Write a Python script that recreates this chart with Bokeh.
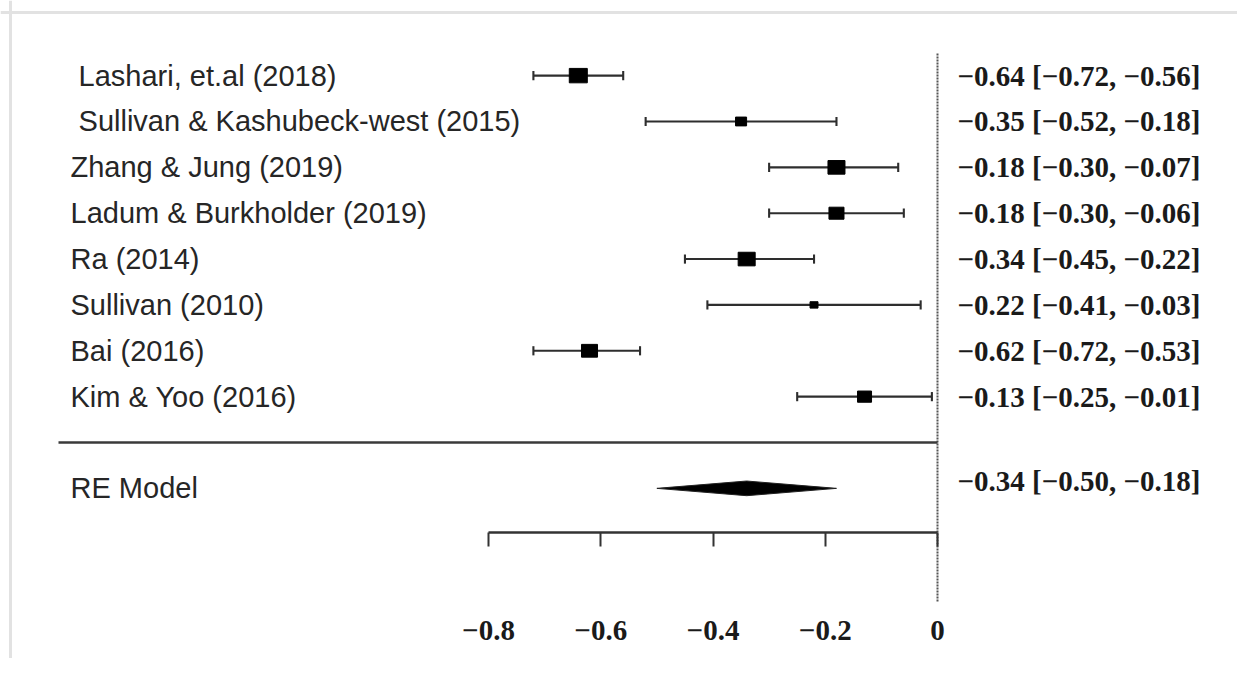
import math
from bokeh.plotting import figure
from bokeh.models import (ColumnDataSource, LinearAxis, FixedTicker,
                          CustomJSTickFormatter, Span, Range1d)
from bokeh.core.properties import value
from bokeh.embed import file_html
from bokeh.resources import INLINE

# ---------------- data ----------------
studies = ["\u00a0Lashari, et.al (2018)",
           "\u00a0Sullivan & Kashubeck-west (2015)",
           "Zhang & Jung (2019)",
           "Ladum & Burkholder (2019)",
           "Ra (2014)",
           "Sullivan (2010)",
           "Bai (2016)",
           "Kim & Yoo (2016)"]
estimates = [-0.64, -0.35, -0.18, -0.18, -0.34, -0.22, -0.62, -0.13]
ci_lower = [-0.72, -0.52, -0.30, -0.30, -0.45, -0.41, -0.72, -0.25]
ci_upper = [-0.56, -0.18, -0.07, -0.06, -0.22, -0.03, -0.53, -0.01]
weights = [18.4, 6.9, 16.4, 12.8, 16.4, 3.6, 14.5, 11.1]

re_label = "RE Model"
re_estimate = -0.34
re_lower = -0.50
re_upper = -0.18

x_ticks = [-0.8, -0.6, -0.4, -0.2, 0]


def fmt(v):
    return f"{v:.2f}".replace("-", "\u2212")


# ---------------- layout constants ----------------
W, H = 1237, 658
PX_X = 561.25           # px per effect unit
PX_Y = 45.86            # px per row
X0_PX = 937             # pixel of effect 0
Y0_PX = 442             # pixel of separator row
x_start = -X0_PX / PX_X
x_end = x_start + W / PX_X
y_top = Y0_PX / PX_Y
y_bot = -(H - Y0_PX) / PX_Y


def xpx(px):
    return x_start + px / PX_X


def ypx(py):
    return y_top - py / PX_Y


label_x = xpx(70)
text_x = xpx(957)
sep_left = xpx(58)
axis_y = -1.96

n = len(studies)
rows = list(range(n, 0, -1))
box_w = [4.2 * math.sqrt(w) for w in weights]
box_h = [0.8 * b for b in box_w]
right_txt = [f"{fmt(e)} [{fmt(l)}, {fmt(u)}]" for e, l, u in zip(estimates, ci_lower, ci_upper)]

src = ColumnDataSource(dict(y=rows, study=studies, est=estimates, lo=ci_lower, hi=ci_upper,
                            bw=box_w, bh=box_h, txt=right_txt,
                            ylo=[r - 0.1 for r in rows], yhi=[r + 0.1 for r in rows]))

p = figure(width=W, height=H, output_backend="svg", toolbar_location=None,
           x_range=Range1d(x_start, x_end), y_range=Range1d(y_bot, y_top),
           x_axis_location=None, y_axis_location=None, min_border=0)
p.outline_line_color = None
p.grid.grid_line_color = None
p.background_fill_color = "white"
p.border_fill_color = "white"

# frame (light gray, left/top)
p.add_layout(Span(location=xpx(10), dimension="height", line_color="#e2e2e2", line_width=3))
p.add_layout(Span(location=ypx(12), dimension="width", line_color="#e2e2e2", line_width=3))

# reference line at 0
p.segment(x0=[0], y0=[ypx(53)], x1=[0], y1=[ypx(602)], line_color="#555555",
          line_width=2, line_dash="2 1")

# separator line
p.segment(x0=[sep_left], y0=[0], x1=[0], y1=[0], line_color="#3a3a3a", line_width=2.5)

# confidence intervals
ci_col = "#2e2e2e"
p.segment(x0="lo", y0="y", x1="hi", y1="y", source=src, line_color=ci_col, line_width=2.1)
p.segment(x0="lo", y0="ylo", x1="lo", y1="yhi", source=src, line_color=ci_col, line_width=2.1)
p.segment(x0="hi", y0="ylo", x1="hi", y1="yhi", source=src, line_color=ci_col, line_width=2.1)

# boxes
p.rect(x="est", y="y", width="bw", height="bh", width_units="screen", height_units="screen",
       source=src, fill_color="black", line_color="black")

# RE diamond
dh = 0.16
p.patch(x=[re_lower, re_estimate, re_upper, re_estimate],
        y=[-1, -1 + dh, -1, -1 - dh], fill_color="black", line_color="#222222", line_width=1)

# left labels
p.text(x=label_x, y="y", text="study", source=src, text_font=value("Liberation Sans"),
       text_font_size="29px", text_baseline="middle", text_align="left", text_color="#262626")
p.text(x=[label_x], y=[-1], text=[re_label], text_font=value("Liberation Sans"),
       text_font_size="29px", text_baseline="middle", text_align="left", text_color="#262626")

# right texts
p.text(x=text_x, y="y", text="txt", source=src, text_font=value("Liberation Serif"),
       text_font_size="29px", text_font_style="bold", text_baseline="middle",
       text_align="left", text_color="#1a1a1a")
p.text(x=[text_x], y=[-1 + 0.15], text=[f"{fmt(re_estimate)} [{fmt(re_lower)}, {fmt(re_upper)}]"],
       text_font=value("Liberation Serif"), text_font_size="29px", text_font_style="bold",
       text_baseline="middle", text_align="left", text_color="#1a1a1a")

# x axis
ax = LinearAxis(fixed_location=axis_y, bounds=(x_ticks[0], x_ticks[-1]),
                ticker=FixedTicker(ticks=x_ticks),
                formatter=CustomJSTickFormatter(code="""
                    return tick == 0 ? "0" : tick.toFixed(1).replace("-", "\u2212");
                """))
ax.axis_line_color = "#333333"
ax.axis_line_width = 2.5
ax.major_tick_line_color = "#333333"
ax.major_tick_line_width = 2
ax.major_tick_out = 14
ax.major_tick_in = 0
ax.minor_tick_out = 0
ax.minor_tick_in = 0
ax.major_label_standoff = 75
ax.major_label_text_font = "Liberation Serif"
ax.major_label_text_font_style = "bold"
ax.major_label_text_font_size = "29px"
ax.major_label_text_color = "#1a1a1a"
p.add_layout(ax, "below")

open("out.html", "w").write(file_html(p, INLINE))
